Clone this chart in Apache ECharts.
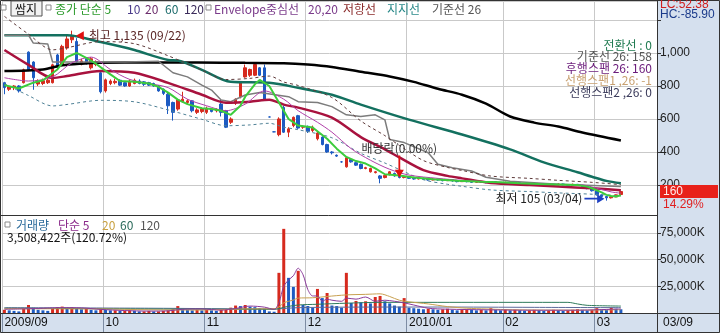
<!DOCTYPE html>
<html><head><meta charset="utf-8">
<script src="https://cdn.jsdelivr.net/npm/echarts@6/dist/echarts.min.js"></script>
<style>html,body{margin:0;padding:0;background:#fff}#c{width:720px;height:333px}</style>
</head><body><div id="c"></div>
<script>
// ---------- trading days ----------
const sepDays=[2,3,4,7,8,9,10,11,14,15,16,17,18,21,22,23,24,25,28,29,30];
const octDays=[1,5,6,7,8,9,12,13,14,15,16,19,20,21,22,23,26,27,28,29,30];
const novDays=[2,3,4,5,6,9,10,11,12,13,16,17,18,19,20,23,24,25,26,27,30];
const decDays=[1,2,3,4,7,8,9,10,11,14,15,16,17,18,21,22,23,24,28,29,30];
const janDays=[4,5,6,7,8,11,12,13,14,15,18,19,20,21,22,25,26,27,28,29];
const febDays=[1,2,3,4,5,8,9,10,11,12,16,17,18,19,22,23,24,25,26];
const marDays=[2,3,4,5,8,9];
const tradingMonths=[['2009','09',sepDays],['2009','10',octDays],['2009','11',novDays],['2009','12',decDays],['2010','01',janDays],['2010','02',febDays],['2010','03',marDays]];
const padSlots=7;

// ---------- price (OHLC) ----------
const opens=[
820,780,790,800,820,1005,945,812,815,820,820,988,930,1030,1080,1070,935,965,910,930,880,
770,815,820,835,820,800,815,830,825,820,815,800,780,750,700,660,705,700,710,640,645,
640,660,650,690,650,580,695,735,855,865,865,910,910,612,522,505,670,520,560,620,550,
555,530,480,490,445,400,380,340,310,355,335,325,300,280,275,255,245,262,270,255,245,
250,240,236,242,234,230,236,230,226,232,224,220,226,220,216,222,218,214,220,215,
212,216,210,214,208,204,210,206,202,208,204,200,206,202,198,204,198,190,178,
165,140,130,122,128,142];
const closes=[
790,795,800,770,898,898,850,828,832,835,928,912,1040,1085,1100,945,952,940,965,948,765,
837,830,828,805,800,830,835,815,810,805,800,770,755,680,640,715,720,710,650,655,660,
665,645,655,640,550,600,720,820,910,900,930,865,720,612,522,600,520,540,610,545,555,
525,550,515,445,400,395,375,340,365,340,320,300,305,300,280,240,258,280,255,245,250,
240,236,242,234,230,236,230,226,232,224,220,226,220,216,222,218,214,220,215,212,
216,210,214,208,204,210,206,202,208,204,200,206,202,198,204,198,190,178,165,
140,130,122,128,140,160];
const lows=[
750,770,775,760,815,890,777,800,805,812,815,905,925,1020,1060,935,925,930,900,920,755,
760,805,810,800,795,795,810,810,800,800,795,765,745,630,590,650,700,690,640,630,635,
630,640,640,615,545,570,685,725,850,855,860,860,710,610,520,495,515,490,550,540,540,
515,520,470,440,395,385,370,335,305,335,315,295,295,275,270,210,240,258,250,240,240,
236,232,234,230,226,228,226,222,224,220,216,218,216,212,214,214,210,212,212,208,
210,206,208,204,200,202,202,198,200,200,196,198,198,194,196,194,186,174,160,
136,126,105,118,126,140];
const highs=[
825,800,805,805,905,1010,950,840,845,850,935,995,1050,1110,1135,1090,965,975,975,955,890,
845,840,845,840,825,840,845,840,830,825,820,805,785,760,705,720,765,720,715,665,670,
675,665,665,717,655,610,725,830,930,905,940,915,930,615,525,610,680,550,615,625,560,
560,560,520,495,450,405,385,345,370,360,340,330,310,305,285,260,262,285,275,258,255,
252,244,246,244,236,240,238,232,236,234,226,230,228,222,226,224,220,224,222,218,
220,218,218,216,210,214,212,208,212,210,206,210,208,204,208,206,200,192,180,
168,142,132,130,142,162];

// ---------- volume (thousand shares) ----------
const volumes=[
3000,2500,2000,1500,4500,7500,5000,3000,2500,2000,4000,5500,6000,5000,5500,4500,3500,4000,3000,2500,3500,
3000,2500,2500,2000,2000,2500,2000,1500,1500,2000,1500,1500,2000,2500,3500,6500,4000,3000,2500,3000,2500,
3000,2500,2000,3000,3500,5000,7000,6500,7500,6000,5500,4500,4000,1500,1200,37700,79000,33000,24500,39600,7500,
6600,5000,22600,14000,18800,7000,6500,5000,37700,9400,11300,10000,11000,9000,15000,16000,11000,9000,7000,6000,14000,
5000,4500,4000,3500,4000,3500,3000,3500,4000,3000,2500,3000,3500,3000,2500,3000,2500,4500,3000,2500,
3500,2500,3000,2500,2000,2500,3000,2500,2000,2500,3000,2500,2000,2500,3000,3500,3000,2500,3000,
4500,3500,3000,5000,4000,3508];

// ---------- indicator lines: [day index, value] ----------
const ma5=[[0,805],[3,785],[6,820],[8,835],[11,900],[13,975],[15,1000],[17,970],[19,935],[22,870],[24,830],[27,825],[30,815],[32,795],[34,760],[36,717],[38,690],[41,665],[43,660],[45,650],[47,625],[49,680],[50,735],[52,810],[53,837],[55,800],[57,700],[59,600],[61,560],[64,548],[67,480],[69,420],[71,370],[73,345],[75,330],[77,300],[79,265],[82,258],[85,245],[89,235],[94,226],[99,220],[103,216],[107,210],[111,206],[115,203],[119,200],[121,190],[122,180],[124,155],[125,140],[126,133],[127,130],[128,138]];
const ma10=[[0,850],[5,830],[10,855],[14,940],[18,975],[22,900],[26,840],[30,815],[34,790],[38,720],[42,680],[46,650],[50,690],[54,770],[58,720],[61,650],[65,580],[68,520],[72,420],[76,350],[80,295],[84,260],[90,240],[95,228],[100,220],[105,213],[110,207],[115,203],[120,200],[123,180],[126,158],[128,150]];
const ma20=[[0,1018],[5,928],[10,849],[13,860],[20,891],[27,880],[34,819],[41,747],[46,699],[51,705],[55,717],[58,687],[61,669],[68,608],[74,490],[79,416],[82,367],[87,290],[92,255],[95,240],[101,212],[109,200],[115,190],[122,180],[128,168]];
const ma60=[[0,1108],[13,1108],[20,1066],[27,1018],[34,958],[36,955],[41,898],[47,825],[55,819],[61,789],[68,747],[74,687],[84,596],[95,506],[105,416],[112,337],[119,277],[122,250],[125,225],[128,211]];
const ma120=[[0,890],[8,900],[12,925],[16,935],[20,940],[30,942],[40,942],[50,940],[58,938],[63,930],[68,915],[74,886],[80,858],[85,825],[90,783],[95,747],[100,693],[105,615],[110,578],[115,554],[120,518],[128,470]];
const envUpper=[[0,1222],[5,1114],[10,1019],[13,1032],[20,1069],[27,1056],[34,983],[41,896],[46,839],[51,846],[55,860],[58,824],[61,803],[68,730],[74,588],[79,499],[82,440],[87,348],[92,306],[95,288],[101,254],[109,240],[115,228],[122,216],[128,202]];
const envLower=[[0,814],[5,742],[10,679],[13,688],[20,713],[27,704],[34,655],[41,598],[46,559],[51,564],[55,574],[58,550],[61,535],[68,486],[74,392],[79,333],[82,294],[87,232],[92,204],[95,192],[101,170],[109,160],[115,152],[122,144],[128,134]];
const baseLine26=[[0,1108],[5,1108],[6,1060],[9,1055],[10,945],[25,945],[32,950],[35,880],[38,855],[41,805],[43,775],[45,715],[47,705],[50,745],[53,760],[59,735],[61,705],[65,700],[68,675],[71,625],[74,615],[77,625],[79,595],[80,475],[83,457],[88,395],[90,325],[93,305],[97,285],[100,247],[105,223],[115,205],[128,190]];
const volMa5=[[0,3500],[5,4000],[8,4500],[12,5000],[16,4800],[20,3400],[25,2300],[30,1800],[34,2000],[37,3500],[41,3800],[45,2700],[48,4200],[51,6500],[54,5500],[56,3400],[57,9800],[58,25000],[59,31000],[60,35000],[61,42000],[62,36000],[63,22000],[64,16000],[65,16000],[66,11000],[67,13000],[68,12000],[70,11000],[71,14000],[73,13000],[75,15000],[77,11000],[79,12000],[81,11000],[83,9500],[85,7500],[88,4500],[92,3600],[100,3000],[110,2600],[118,2600],[122,2900],[126,3500],[128,3800]];
const volMa20=[[0,4000],[20,3800],[30,3000],[40,2800],[50,3800],[56,4000],[57,5700],[58,9500],[59,11000],[60,12200],[61,14000],[64,14300],[67,15500],[71,17000],[75,17500],[78,18000],[80,15500],[82,12000],[84,10500],[88,8500],[92,6000],[96,4500],[100,3800],[104,3200],[110,2800],[120,2700],[128,3100]];
const volMa60=[[0,4500],[30,3800],[56,3500],[57,4100],[58,5400],[61,7500],[65,8200],[71,9200],[78,10000],[90,10000],[110,10000],[117,10000],[119,8500],[121,7200],[128,6500]];
const volMa120=[[0,5000],[30,4500],[56,3800],[61,5000],[71,5500],[90,5600],[110,5300],[128,5000]];

// ---------- texts ----------
const priceTicks=[200,400,600,800,1000];
const volTicks=[25000,50000,75000];
const ichimokuInfo=[['전환선 : 0','#1f7a50'],['기준선 26: 158','#555555'],['후행스팬 26: 160','#6a1a7a'],['선행스팬1 ,26: -1','#c8a070'],['선행스팬2 ,26: 0','#3a3a5a']];
const lastChangePct='14.29%';
const exDivDate='2009/12/29';

// ---------- build ----------
const cats=[]; const monthStart=new Set(); const monthLabel={};
tradingMonths.forEach(([y,m,days])=>{
  monthStart.add(cats.length);
  monthLabel[cats.length]=(cats.length===0||m==='01')?(y+'/'+m):m;
  days.forEach(d=>cats.push(y+'/'+m+'/'+String(d).padStart(2,'0')));
});
const nDays=cats.length;
for(let k=0;k<padSlots;k++) cats.push('pad'+k);
const isMS=(i)=>monthStart.has(i);
const fmt=v=>v.toLocaleString('en-US');

const RED='#d62a1e', BLUE='#1d5bc2';
const KR='"Noto Sans CJK KR", sans-serif';
const LAT='"Liberation Sans", sans-serif';
const candles=opens.map((o,i)=>[o,closes[i],lows[i],highs[i]]);
const volData=volumes.map((v,i)=>({value:v,itemStyle:{color:(i>0&&v<volumes[i-1])?BLUE:RED}}));
const hiVal=Math.max(...highs), hiIdx=highs.indexOf(hiVal);
const loVal=Math.min(...lows), loIdx=lows.indexOf(loVal);
const exIdx=cats.indexOf(exDivDate);

const ln=(data,color,width,extra)=>Object.assign({type:'line',data,xAxisIndex:0,yAxisIndex:0,showSymbol:false,symbol:'none',silent:true,lineStyle:{color,width},itemStyle:{color},z:3},extra||{});
const vln=(data,color,width)=>({type:'line',data,xAxisIndex:1,yAxisIndex:1,showSymbol:false,symbol:'none',silent:true,smooth:0.3,lineStyle:{color,width},z:3});

const chart=echarts.init(document.getElementById('c'));
const option={
  animation:false,
  textStyle:{fontFamily:KR},
  grid:[{left:2,right:63,top:1,height:214},{left:2,right:63,top:215,height:98}],
  xAxis:[
    {type:'category',gridIndex:0,data:cats,boundaryGap:true,axisLine:{show:false},axisTick:{show:false},axisLabel:{show:false},
     splitLine:{show:true,interval:isMS,lineStyle:{color:'#c9c9c9'}}},
    {type:'category',gridIndex:1,data:cats,boundaryGap:true,axisLine:{show:true,lineStyle:{color:'#333'}},
     axisTick:{show:true,interval:isMS,length:20,lineStyle:{color:'#7d8ca3'}},
     axisLabel:{show:true,interval:isMS,formatter:(v,i)=>monthLabel[i]||'',align:'left',color:'#111',fontSize:12,margin:4,fontFamily:LAT},
     splitLine:{show:true,interval:isMS,lineStyle:{color:'#c9c9c9'}}}
  ],
  yAxis:[
    {type:'value',gridIndex:0,position:'right',min:18,max:1315,splitNumber:7,
     axisLine:{show:true,lineStyle:{color:'#333'}},axisTick:{show:true,length:4,lineStyle:{color:'#333'}},
     axisLabel:{showMinLabel:false,showMaxLabel:false,margin:3,color:'#222',fontSize:12,fontFamily:LAT,
       formatter:v=>priceTicks.includes(v)?fmt(v):''},
     splitLine:{show:true,lineStyle:{color:'#c9c9c9'}}},
    {type:'value',gridIndex:1,position:'right',min:0,max:92000,interval:25000,
     axisLine:{show:true,lineStyle:{color:'#333'}},axisTick:{show:true,length:4,lineStyle:{color:'#333'}},
     axisLabel:{showMinLabel:false,showMaxLabel:false,margin:3,color:'#222',fontSize:12,fontFamily:LAT,
       formatter:v=>volTicks.includes(v)?fmt(v)+'K':''},
     splitLine:{show:true,lineStyle:{color:'#c9c9c9'}}}
  ],
  series:[
    {type:'candlestick',xAxisIndex:0,yAxisIndex:0,data:candles,barWidth:3,z:2,
     itemStyle:{color:RED,color0:BLUE,borderColor:RED,borderColor0:BLUE,borderWidth:1},
     markPoint:{silent:true,animation:false,data:[
       {coord:[hiIdx,hiVal],symbol:'path://M0,5 L9,0 L9,10 Z',symbolSize:[8,9],symbolOffset:[8,5],itemStyle:{color:'#e01010'},
        label:{show:true,position:'right',distance:5,formatter:'최고 '+fmt(hiVal)+' ('+cats[hiIdx].slice(5)+')',color:'#5a2626',fontSize:12,fontFamily:KR}},
       {coord:[exIdx,highs[exIdx]],symbol:'path://M4,0 L6,0 L6,13 L10,13 L5,20 L0,13 L4,13 Z',symbolSize:[9,22],symbolOffset:[0,-9],itemStyle:{color:'#e01010'},
        label:{show:true,position:'top',distance:1,formatter:'배당락(0.00%)',color:'#333',fontSize:12,fontFamily:KR}},
       {coord:[loIdx,loVal],symbol:'path://M0,4 L14,4 L14,0 L22,5 L14,10 L14,6 L0,6 Z',symbolSize:[20,9],symbolOffset:[-12,-2],itemStyle:{color:'#1d3fc2'},
        label:{show:true,position:'left',distance:2,formatter:'최저 '+fmt(loVal)+' ('+cats[loIdx].slice(5)+')',color:'#222',fontSize:12,fontFamily:KR}}
     ]}},
    ln(ma120,'#000000',2.5,{smooth:0.3}),
    ln(ma60,'#13705f',2.5,{smooth:0.3}),
    ln(baseLine26,'#7c7c7c',1.5),
    ln(envUpper,'#5e3a3a',1,{smooth:0.3,lineStyle:{color:'#5e3a3a',width:1,type:[3,3]}}),
    ln(envLower,'#4f8196',1,{smooth:0.3,lineStyle:{color:'#4f8196',width:1,type:[3,3]}}),
    ln(ma20,'#a8123e',2.5,{smooth:0.3}),
    ln(ma10,'#b040a8',1,{smooth:0.3}),
    ln(ma5,'#3ccc3c',2,{z:4}),
    {type:'bar',xAxisIndex:1,yAxisIndex:1,data:volData,barWidth:3,z:2},
    vln(volMa120,'#5a6a9a',1),
    vln(volMa60,'#2e7a5a',1),
    vln(volMa20,'#c8a050',1),
    vln(volMa5,'#8a3a9a',1)
  ]
};
chart.setOption(option);

// ---------- decorations (panels, legends, labels) ----------
const lastClose=closes[nDays-1];
const yLast=chart.convertToPixel({yAxisIndex:0},lastClose);
const T=(text,x,y,fill,extra,z)=>({type:'text',x,y,z:z||20,style:Object.assign({text,fill,font:'11px '+KR,align:'left',verticalAlign:'middle',textAlign:'left',textVerticalAlign:'middle'},extra||{})});
const sq=(x,y)=>({type:'rect',z:20,shape:{x,y,width:5,height:5},style:{fill:'#fff',stroke:'#8a8a8a',lineWidth:1}});
const g=[];
g.push({type:'rect',z:-5,shape:{x:657,y:0,width:63,height:333},style:{fill:'#d5e0ee'}});
g.push({type:'rect',z:-5,shape:{x:0,y:313,width:720,height:20},style:{fill:'#d5e0ee'}});
g.push({type:'line',z:19,shape:{x1:0,y1:215.5,x2:657,y2:215.5},style:{stroke:'#333',lineWidth:1}});
g.push({type:'line',z:19,shape:{x1:0,y1:313.5,x2:720,y2:313.5},style:{stroke:'#333',lineWidth:1}});
g.push({type:'line',z:19,shape:{x1:657.5,y1:313,x2:657.5,y2:333},style:{stroke:'#333',lineWidth:1}});
g.push({type:'rect',z:19,shape:{x:0.5,y:0.5,width:719,height:332},style:{fill:null,stroke:'#333',lineWidth:1}});
// top legend
g.push(sq(1,5));
g.push({type:'rect',z:20,shape:{x:11,y:1,width:31,height:15},style:{fill:'#f2f2f2',stroke:'#555',lineWidth:1}});
g.push(T('쌈지',26,9,'#111',{align:'center',textAlign:'center',font:'12px '+KR}));
g.push(sq(46,5)); g.push(sq(206,5));
[['종가 단순 5',55,'#2a9a2a'],['10',127,'#4a3a8a'],['20',145,'#6a2a6a'],['60',165,'#1a6a6a'],['120',184,'#3a2a5a'],
 ['Envelope중심선',214,'#7a3a8a'],['20,20',308,'#7a3a8a'],['저항선',343,'#8a2a2a'],['지지선',387,'#2a8a8a'],['기준선 26',432,'#555555']]
 .forEach(([t,x,c])=>g.push(T(t,x,9,c,{font:'12px '+KR})));
// volume legend
g.push(sq(5,222));
[['거래량',16,'#2a6a9a'],['단순 5',58,'#8a2a8a'],['20',102,'#c8a040'],['60',120,'#2a6a5a'],['120',140,'#555555']]
 .forEach(([t,x,c])=>g.push(T(t,x,225,c,{font:'12px '+KR})));
g.push(T(fmt(volumes[nDays-1]*1000+422)+'주(120.72%)',7,237,'#111',{font:'12px '+KR}));
// ichimoku info
ichimokuInfo.forEach(([t,c],k)=>g.push(T(t,652,45+k*11.8,c,{align:'right',textAlign:'right',font:'12px '+KR})));
// right panel
g.push(T('LC:52.38',660,5,'#d02020',{font:'12px '+LAT}));
g.push(T('HC:-85.90',660,15,'#1a3a8a',{font:'12px '+LAT}));
g.push({type:'rect',z:21,shape:{x:660,y:yLast-6.5,width:58,height:13},style:{fill:'#e8211a'}});
g.push(T(String(lastClose),663,yLast,'#ffecec',{font:'12px '+LAT},22));
g.push(T(lastChangePct,663,yLast+13,'#e02020',{font:'12px '+LAT},22));
g.push(T(cats[nDays-1].slice(5),663,323,'#111',{font:'12px '+LAT}));
chart.setOption({graphic:g});
</script>
</body></html>
